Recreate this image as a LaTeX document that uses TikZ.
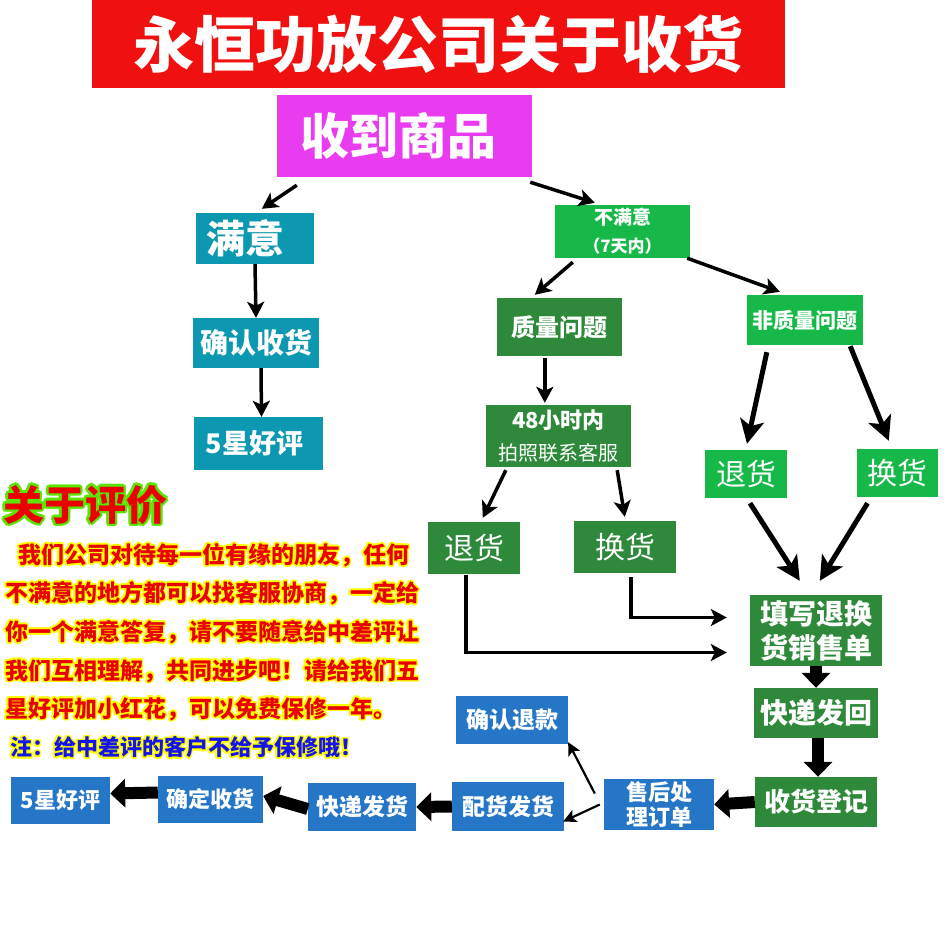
\documentclass[tikz,border=0pt]{standalone}
\usepackage{fontspec}
\setmainfont{Noto Sans CJK SC}
\usepackage[copies]{contour}
\contournumber{12}
\usetikzlibrary{arrows.meta}
\definecolor{titlered}{RGB}{240,16,16}
\definecolor{pinkbox}{RGB}{233,60,240}
\definecolor{tealbox}{RGB}{12,152,176}
\definecolor{lightgreen}{RGB}{22,185,72}
\definecolor{darkgreen}{RGB}{46,138,58}
\definecolor{bluebox}{RGB}{38,118,200}
\definecolor{notered}{RGB}{235,0,0}
\definecolor{noteblue}{RGB}{20,20,235}
\definecolor{glowgreen}{RGB}{90,230,0}
\definecolor{glowyellow}{RGB}{255,255,0}

\begin{document}
\begin{tikzpicture}[x=1pt,y=-1pt,
  box/.style={inner sep=0pt, text=white, font=\bfseries},
  redbox/.style={box, fill=titlered},
  pinkbx/.style={box, fill=pinkbox},
  tealbx/.style={box, fill=tealbox},
  lgreenbx/.style={box, fill=lightgreen},
  dgreenbx/.style={box, fill=darkgreen},
  bluebx/.style={box, fill=bluebox},
  para/.style={anchor=west, inner sep=0pt, text=notered,
    font=\bfseries\fontsize{23}{23}\selectfont},
  arr/.style={line width=3.5pt, -{Stealth[length=16pt,width=17pt,inset=4pt]}},
  bigarr/.style={line width=5pt, -{Stealth[length=24pt,width=24pt,inset=6pt]}},
  thinarr/.style={line width=2.2pt, -{Stealth[length=13pt,width=13pt,inset=3pt]}},
  blockarr/.style={line width=12pt, -{Triangle[length=15pt,width=28pt]}}]
 \useasboundingbox[fill=white] (0,0) rectangle (945,945);
 % top part
 \node[redbox, minimum width=693, minimum height=88, font=\bfseries\fontsize{61}{61}\selectfont] (title) at (438.5,44) {永恒功放公司关于收货};
 \node[pinkbx, minimum width=255, minimum height=82, font=\bfseries\fontsize{49}{49}\selectfont] (shoudao) at (404.5,136) {\hspace*{-12pt}收到商品};
 % satisfied
 \node[tealbx, minimum width=118, minimum height=51, font=\bfseries\fontsize{39}{39}\selectfont] (manyi) at (255,238.5) {\hspace*{-20pt}满意};
 \node[tealbx, minimum width=126, minimum height=50, font=\bfseries\fontsize{28}{28}\selectfont] (queren) at (256,343) {确认收货};
 \node[tealbx, minimum width=129, minimum height=53, font=\bfseries\fontsize{27}{27}\selectfont] (haoping) at (258.5,443.5) {\hspace*{-8pt}5星好评};
 % not satisfied
 \node[lgreenbx, minimum width=135, minimum height=53, align=center, font=\bfseries\fontsize{17}{28}\selectfont] (buman) at (622.5,231.5) {{\fontsize{19}{28}\selectfont 不满意}\\（7天内）};
 \node[dgreenbx, minimum width=125, minimum height=58, font=\bfseries\fontsize{24}{24}\selectfont] (zhiliang) at (559.5,327) {质量问题};
 \node[dgreenbx, minimum width=145, minimum height=62, align=center, font=\fontsize{20}{32}\selectfont] (xiaoshi) at (558.5,436) {{\bfseries\fontsize{22}{32}\selectfont 48小时内}\\拍照联系客服};
 \node[dgreenbx, minimum width=92, minimum height=52, font=\fontsize{30}{30}\selectfont] (tuiA) at (474,548) {退货};
 \node[dgreenbx, minimum width=102, minimum height=52, font=\fontsize{30}{30}\selectfont] (huanA) at (625,547) {换货};
 \node[lgreenbx, minimum width=116, minimum height=50, font=\bfseries\fontsize{21}{21}\selectfont] (feizhi) at (805,320) {非质量问题};
 \node[lgreenbx, minimum width=82, minimum height=48, font=\fontsize{30}{30}\selectfont] (tuiB) at (746,474) {退货};
 \node[lgreenbx, minimum width=81, minimum height=48, font=\fontsize{30}{30}\selectfont] (huanB) at (897.5,473) {换货};
 \node[dgreenbx, minimum width=132, minimum height=71, align=center, font=\bfseries\fontsize{28}{34}\selectfont] (tianxie) at (816,630.5) {填写退换\\货销售单};
 \node[dgreenbx, minimum width=124, minimum height=50, font=\bfseries\fontsize{28}{28}\selectfont] (fahui) at (816,713) {快递发回};
 \node[dgreenbx, minimum width=122, minimum height=50, font=\bfseries\fontsize{26}{26}\selectfont] (dengji) at (816,802) {收货登记};
 % after-sales row
 \node[bluebx, minimum width=110, minimum height=51, align=center, font=\bfseries\fontsize{22}{25}\selectfont] (shouhou) at (659,804.5) {售后处\\理订单};
 \node[bluebx, minimum width=112, minimum height=48, font=\bfseries\fontsize{23}{23}\selectfont] (tuikuan) at (512,720) {确认退款};
 \node[bluebx, minimum width=112, minimum height=49, font=\bfseries\fontsize{23}{23}\selectfont] (peihuo) at (508,806.5) {配货发货};
 \node[bluebx, minimum width=108, minimum height=48, font=\bfseries\fontsize{23}{23}\selectfont] (fahuo) at (362,807) {快递发货};
 \node[bluebx, minimum width=105, minimum height=47, font=\bfseries\fontsize{22}{22}\selectfont] (queding) at (210.5,799.5) {确定收货};
 \node[bluebx, minimum width=99, minimum height=47, font=\bfseries\fontsize{22}{22}\selectfont] (wuxing) at (60.5,800.5) {5星好评};
 % about reviews
 \node[anchor=west, inner sep=0pt, text=notered, font=\bfseries\fontsize{41}{41}\selectfont] (pingjia) at (3,506) {\contourlength{2.5pt}\contour{glowgreen}{关于评价}};
 \node[para] (para1) at (18,556) {\contourlength{1.6pt}\contour{glowyellow}{我们公司对待每一位有缘的朋友，任何}};
 \node[para] (para2) at (5,594) {\contourlength{1.6pt}\contour{glowyellow}{不满意的地方都可以找客服协商，一定给}};
 \node[para] (para3) at (5,633) {\contourlength{1.6pt}\contour{glowyellow}{你一个满意答复，请不要随意给中差评让}};
 \node[para] (para4) at (5,672) {\contourlength{1.6pt}\contour{glowyellow}{我们互相理解，共同进步吧！请给我们五}};
 \node[para] (para5) at (5,710) {\contourlength{1.6pt}\contour{glowyellow}{星好评加小红花，可以免费保修一年。}};
 \node[para, text=noteblue, font=\bfseries\fontsize{22}{22}\selectfont] (para6) at (10,748) {\contourlength{1.6pt}\contour{glowyellow}{注：给中差评的客户不给予保修哦！}};
 % arrows
 \draw[arr] ([shift={(20,8)}]shoudao.south west) -- ([shift={(66,-4)}]manyi.north west);
 \draw[arr] ([shift={(-2,5)}]shoudao.south east) -- ([shift={(40,-2)}]buman.north west);
 \draw[arr] (manyi.south) -- (queren.north);
 \draw[arr] ([xshift=5]queren.south) -- ([xshift=3]haoping.north);
 \draw[arr] ([shift={(18,4)}]buman.south west) -- ([shift={(38,-3)}]zhiliang.north west);
 \draw[arr] ([shift={(-3,0)}]buman.south east) -- ([shift={(33,-3)}]feizhi.north west);
 \draw[arr] ([shift={(48,2)}]zhiliang.south west) -- ([shift={(59,-2)}]xiaoshi.north west);
 \draw[arr] ([shift={(20,3)}]xiaoshi.south west) -- ([shift={(55,-4)}]tuiA.north west);
 \draw[arr] ([shift={(-14,3)}]xiaoshi.south east) -- ([shift={(51,-4)}]huanA.north west);
 \draw[bigarr] ([shift={(20,7)}]feizhi.south west) -- ([shift={(1,-6)}]tuiB.north);
 \draw[bigarr] ([shift={(-13,1)}]feizhi.south east) -- ([shift={(32,-8)}]huanB.north west);
 \draw[bigarr] ([shift={(4,5)}]tuiB.south) -- ([shift={(50,-14)}]tianxie.north west);
 \draw[bigarr] ([shift={(-30,6)}]huanB.south) -- ([shift={(70,-14)}]tianxie.north west);
 \draw[arr] ([shift={(-8,1)}]tuiA.south) |- ([shift={(-23,22)}]tianxie.west);
 \draw[arr] ([shift={(6,4)}]huanA.south) |- ([shift={(-23,-13)}]tianxie.west);
 \draw[blockarr] (tianxie.south) -- (fahui.north);
 \draw[blockarr] ([xshift=2]fahui.south) -- ([xshift=2]dengji.north);
 \draw[blockarr] (dengji.west) -- (shouhou.east);
 \draw[thinarr] ([xshift=-4]shouhou.west) -- ([shift={(-1,15)}]peihuo.east);
 \draw[thinarr] ([shift={(-9,-11)}]shouhou.west) -- ([yshift=2]tuikuan.south east);
 \draw[blockarr] (peihuo.west) -- (fahuo.east);
 \draw[blockarr] ([yshift=-2]fahuo.west) -- ([yshift=3.5]queding.east);
 \draw[blockarr] ([yshift=7]queding.west) -- ([yshift=7]wuxing.east);
\end{tikzpicture}
\end{document}
